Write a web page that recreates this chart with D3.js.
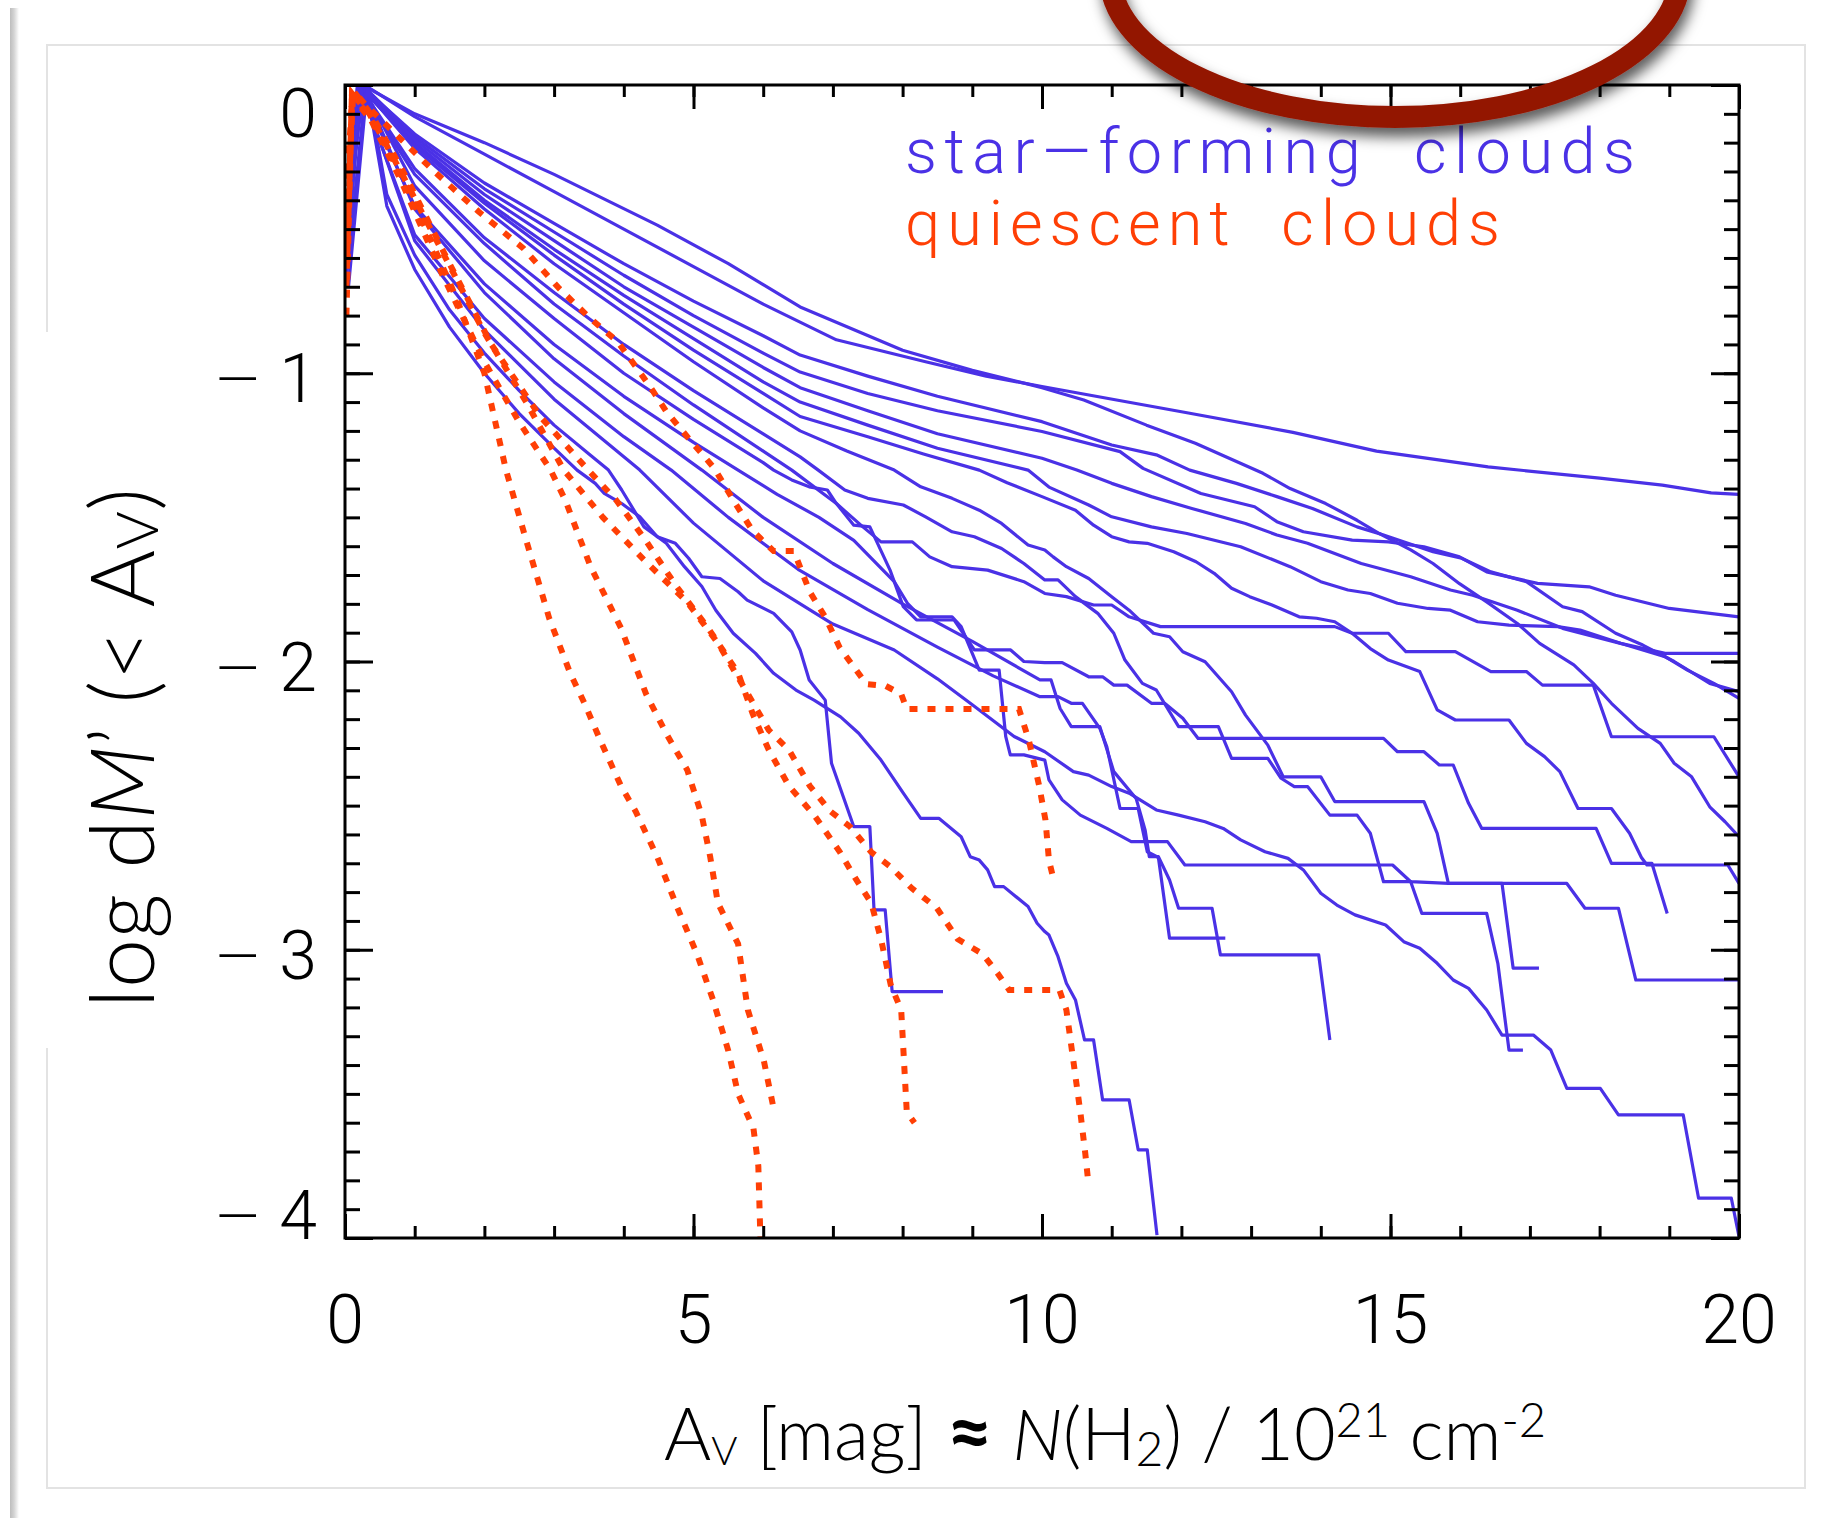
<!DOCTYPE html>
<html>
<head>
<meta charset="utf-8">
<script src="https://cdn.jsdelivr.net/npm/d3@7"></script>
<style>
  html, body { margin: 0; padding: 0; background: #fff; }
  svg { display: block; }
</style>
</head>
<body>
<svg id="chart" width="1826" height="1518"></svg>
<script>
// star-forming clouds: [Av, log dM']
const sf01 = [[0.04,-0.42],[0.28,0],[1,-0.11],[2,-0.24],[3,-0.37],[4,-0.5],[5,-0.63],[6,-0.76],[7.05,-0.884],[8.33,-0.96],[9.2,-1.01],[10,-1.046],[12.1,-1.138],[13.6,-1.205],[14.8,-1.27],[16.4,-1.325],[18,-1.364],[18.9,-1.388],[19.6,-1.415],[20,-1.42]];
const sf02 = [[0.05,-0.5],[0.25,0],[1,-0.18],[2,-0.36],[3,-0.51],[4,-0.66],[5,-0.8],[6,-0.93],[6.53,-0.996],[7.5,-1.07],[8.5,-1.13],[10,-1.202],[11.12,-1.272],[11.45,-1.33],[12.28,-1.417],[13.05,-1.463],[13.37,-1.515],[13.75,-1.55],[14.45,-1.579],[14.97,-1.585],[15.48,-1.602],[15.99,-1.637],[16.38,-1.689],[17.11,-1.729],[17.85,-1.741],[18.23,-1.77],[19,-1.816],[20,-1.845]];
const sf03 = [[0.05,-0.3],[0.18,0],[1,-0.2],[2,-0.4],[3,-0.57],[4,-0.73],[5,-0.88],[6,-1.03],[6.53,-1.1],[7.5,-1.18],[8.5,-1.26],[9.8,-1.336],[10.1,-1.395],[10.67,-1.457],[11,-1.498],[11.57,-1.533],[12.08,-1.556],[12.85,-1.602],[13.56,-1.671],[14,-1.723],[14.39,-1.752],[14.71,-1.764],[15.1,-1.798],[15.54,-1.816],[15.86,-1.822],[16.25,-1.862],[16.7,-1.874],[17.4,-1.879],[17.72,-1.891],[18.3,-1.937],[18.94,-1.972],[20,-1.972]];
const sf04 = [[0.06,-0.28],[0.22,0],[1,-0.17],[2,-0.34],[3,-0.48],[4,-0.62],[5,-0.75],[6,-0.87],[6.53,-0.937],[7.5,-1.01],[8.5,-1.08],[10,-1.168],[11,-1.249],[11.64,-1.283],[12.12,-1.336],[12.79,-1.382],[13.37,-1.428],[13.88,-1.469],[14.52,-1.533],[14.9,-1.561],[15.61,-1.619],[16.02,-1.642],[16.44,-1.689],[16.95,-1.723],[17.47,-1.81],[17.75,-1.827],[18.23,-1.902],[18.62,-1.943],[19.07,-2.0],[19.58,-2.076],[20,-2.105]];
const sf05 = [[0.04,-0.6],[0.2,0],[1,-0.19],[2,-0.38],[3,-0.54],[4,-0.7],[5,-0.84],[6,-0.98],[6.53,-1.05],[7.5,-1.13],[8.5,-1.21],[10,-1.295],[10.5,-1.336],[11,-1.382],[11.57,-1.428],[12.15,-1.469],[12.92,-1.521],[13.37,-1.561],[13.81,-1.59],[14.58,-1.66],[15.29,-1.706],[15.86,-1.752],[16.18,-1.77],[16.82,-1.822],[17.47,-1.885],[18.3,-1.937],[18.94,-1.983],[19.26,-2.03],[19.64,-2.076],[20,-2.128]];
const sf06 = [[0.03,-0.65],[0.18,0],[1,-0.31],[2,-0.55],[3,-0.76],[4,-0.94],[5,-1.11],[6,-1.27],[6.41,-1.336],[7.05,-1.452],[7.43,-1.533],[7.69,-1.585],[8.14,-1.585],[8.39,-1.637],[8.71,-1.671],[9.22,-1.683],[9.74,-1.723],[10.04,-1.764],[10.35,-1.775],[10.74,-1.804],[11,-1.804],[11.25,-1.845],[11.7,-1.879],[14.2,-1.879],[14.45,-1.902],[14.97,-1.902],[15.22,-1.966],[15.93,-1.966],[16.44,-2.035],[16.95,-2.035],[17.18,-2.082],[17.91,-2.082],[18.17,-2.261],[19.64,-2.261],[20,-2.4]];
const sf07 = [[0.05,-0.35],[0.25,0],[1,-0.1],[2,-0.2],[3,-0.31],[4.48,-0.486],[5.5,-0.62],[6.53,-0.77],[8,-0.92],[9,-0.99],[10,-1.05],[10.6,-1.093],[11.5,-1.18],[12.2,-1.243],[13.17,-1.347],[13.56,-1.4],[14.07,-1.452],[14.52,-1.51],[14.84,-1.556],[15.29,-1.613],[15.61,-1.66],[15.99,-1.73],[16.38,-1.793],[16.82,-1.868],[17.14,-1.937],[17.63,-2.012],[17.91,-2.076],[18.17,-2.145],[18.55,-2.232],[18.87,-2.284],[19.07,-2.353],[19.32,-2.4],[19.58,-2.504],[19.8,-2.556],[20,-2.608]];
const sf08 = [[0.04,-0.55],[0.2,0],[1,-0.21],[2,-0.41],[3,-0.59],[4,-0.76],[5,-0.92],[6,-1.07],[6.53,-1.15],[7.5,-1.22],[8.3,-1.28],[9.1,-1.336],[9.5,-1.38],[10,-1.428],[10.48,-1.475],[10.74,-1.527],[11,-1.567],[11.25,-1.585],[11.51,-1.59],[11.89,-1.619],[12.21,-1.654],[12.47,-1.694],[12.72,-1.746],[12.98,-1.775],[13.3,-1.804],[13.69,-1.845],[13.94,-1.85],[14.2,-1.862],[14.45,-1.902],[14.71,-1.955],[14.97,-1.995],[15.42,-2.035],[15.67,-2.168],[15.93,-2.203],[16.7,-2.203],[16.95,-2.284],[17.21,-2.33],[17.43,-2.382],[17.69,-2.51],[18.17,-2.51],[18.43,-2.596],[18.6,-2.68],[18.68,-2.706],[19.84,-2.706],[20,-2.77]];
const sf09 = [[0.05,-0.35],[0.24,0],[1,-0.35],[2,-0.61],[3,-0.81],[4,-1.0],[5,-1.16],[6,-1.31],[6.15,-1.336],[6.41,-1.37],[6.66,-1.394],[6.92,-1.405],[7.05,-1.452],[7.3,-1.527],[7.53,-1.533],[7.82,-1.683],[7.88,-1.723],[8.01,-1.81],[8.2,-1.856],[8.74,-1.856],[9.03,-1.96],[9.55,-1.96],[9.74,-2.0],[10.04,-2.004],[10.29,-2.004],[10.67,-2.053],[10.87,-2.053],[11.03,-2.082],[11.22,-2.082],[11.57,-2.145],[11.76,-2.145],[12.02,-2.197],[12.24,-2.267],[14.9,-2.267],[15.1,-2.313],[15.48,-2.313],[15.7,-2.359],[15.9,-2.359],[16.12,-2.492],[16.31,-2.579],[17.95,-2.579],[18.17,-2.7],[18.75,-2.7],[18.97,-2.874]];
const sf10 = [[0.04,-0.5],[0.2,0],[1,-0.42],[2,-0.69],[3,-0.9],[4,-1.08],[5,-1.24],[5.64,-1.336],[6.2,-1.42],[6.8,-1.5],[7.3,-1.58],[7.88,-1.723],[8.07,-1.798],[8.26,-1.845],[8.71,-1.845],[8.84,-1.879],[9.1,-2.03],[9.385,-2.03],[9.48,-2.261],[9.545,-2.324],[9.74,-2.324],[10.04,-2.342],[10.1,-2.411],[10.29,-2.48],[10.55,-2.533],[10.93,-2.579],[11.28,-2.625],[11.8,-2.625],[12.05,-2.706],[15.03,-2.706],[15.29,-2.764],[15.83,-2.77],[17.53,-2.77],[17.79,-2.856],[18.27,-2.856],[18.52,-3.105],[20,-3.105]];
const sf11 = [[0.05,-0.55],[0.22,0],[1,-0.54],[2,-0.85],[3,-1.09],[4,-1.29],[4.23,-1.336],[5,-1.52],[6,-1.72],[7,-1.87],[7.88,-1.96],[8.5,-2.06],[9,-2.15],[9.6,-2.26],[10.04,-2.313],[10.45,-2.382],[10.67,-2.394],[11,-2.434],[11.25,-2.457],[11.64,-2.515],[11.96,-2.533],[12.34,-2.556],[12.6,-2.579],[12.85,-2.619],[13.2,-2.66],[13.53,-2.683],[13.75,-2.723],[14,-2.804],[14.23,-2.845],[14.49,-2.879],[14.93,-2.914],[15.19,-2.972],[15.42,-2.995],[15.67,-3.047],[15.9,-3.105],[16.12,-3.134],[16.38,-3.209],[16.6,-3.296],[17.05,-3.296],[17.3,-3.348],[17.53,-3.481],[18.01,-3.481],[18.27,-3.573],[19.2,-3.573],[19.42,-3.862],[19.89,-3.862],[20,-3.995]];
const sf12 = [[0.05,-0.45],[0.2,0],[1,-0.29],[2,-0.53],[3,-0.72],[4,-0.9],[5,-1.06],[6,-1.21],[6.53,-1.29],[6.79,-1.336],[7.17,-1.405],[7.5,-1.434],[8.01,-1.457],[8.33,-1.498],[8.71,-1.55],[9.03,-1.567],[9.42,-1.608],[9.74,-1.66],[10.04,-1.717],[10.23,-1.717],[10.48,-1.775],[10.8,-1.833],[11.03,-1.902],[11.19,-1.995],[11.44,-2.076],[11.64,-2.099],[11.96,-2.226],[12.53,-2.226],[12.72,-2.336],[13.24,-2.336],[13.43,-2.405],[13.62,-2.434],[13.81,-2.434],[14.13,-2.533],[14.52,-2.533],[14.71,-2.596],[14.9,-2.764],[15.29,-2.764],[15.45,-2.874],[16.38,-2.874],[16.54,-3.047],[16.7,-3.348],[16.9,-3.348]];
const sf13 = [[0.05,-0.4],[0.22,0],[1,-0.22],[2,-0.43],[3,-0.62],[4,-0.79],[5,-0.96],[6,-1.12],[6.53,-1.2],[7.2,-1.27],[7.88,-1.336],[8.26,-1.394],[8.71,-1.434],[9.1,-1.475],[9.42,-1.521],[9.8,-1.596],[10.04,-1.613],[10.16,-1.637],[10.35,-1.671],[10.67,-1.712],[11,-1.775],[11.25,-1.822],[11.6,-1.902],[11.83,-1.914],[12.02,-1.966],[12.34,-2.001],[12.72,-2.105],[12.92,-2.186],[13.24,-2.29],[13.46,-2.4],[14,-2.4],[14.2,-2.486],[15.48,-2.486],[15.67,-2.596],[15.83,-2.77],[16.6,-2.77],[16.76,-3.064],[17.13,-3.064]];
const sf14 = [[0.04,-0.4],[0.25,0],[1,-0.43],[2,-0.72],[3,-0.95],[4,-1.14],[5.12,-1.336],[6,-1.5],[7,-1.66],[8,-1.8],[9,-1.93],[9.97,-2.064],[10.13,-2.064],[10.26,-2.163],[10.42,-2.226],[10.83,-2.226],[11.03,-2.382],[11.35,-2.475],[11.48,-2.585],[11.54,-2.677],[11.67,-2.677],[11.83,-2.758],[11.96,-2.856],[12.44,-2.856],[12.56,-3.018],[13.97,-3.018],[14.13,-3.313]];
const sf15 = [[0.06,-0.25],[0.2,0],[1,-0.52],[2,-0.81],[3,-1.03],[4,-1.22],[4.68,-1.336],[5.5,-1.5],[6.5,-1.68],[7.5,-1.82],[8.5,-1.95],[9.3,-2.05],[9.97,-2.122],[10.23,-2.122],[10.42,-2.145],[10.58,-2.145],[10.83,-2.232],[10.93,-2.296],[11.12,-2.51],[11.38,-2.51],[11.51,-2.66],[11.67,-2.68],[11.83,-2.96],[12.63,-2.96]];
const sf16 = [[0.05,-0.6],[0.3,0],[0.6,-0.42],[1,-0.64],[1.5,-0.84],[2,-1.0],[2.5,-1.14],[3,-1.26],[3.33,-1.336],[3.59,-1.382],[3.72,-1.417],[3.97,-1.452],[4.23,-1.498],[4.48,-1.567],[4.74,-1.59],[4.93,-1.642],[5.12,-1.706],[5.38,-1.712],[5.64,-1.758],[5.77,-1.787],[6.15,-1.833],[6.41,-1.897],[6.53,-1.96],[6.66,-2.064],[6.89,-2.134],[6.98,-2.353],[7.3,-2.573],[7.53,-2.573],[7.59,-2.862],[7.75,-2.862],[7.85,-3.145],[8.58,-3.145]];
const sf17 = [[0.05,-0.7],[0.32,0],[0.6,-0.38],[1,-0.59],[1.5,-0.78],[2,-0.93],[2.5,-1.06],[3,-1.18],[3.5,-1.28],[3.78,-1.336],[3.97,-1.405],[4.29,-1.533],[4.61,-1.59],[4.87,-1.671],[5.12,-1.74],[5.32,-1.822],[5.57,-1.902],[5.89,-1.972],[6.15,-2.041],[6.47,-2.099],[6.73,-2.134],[7.11,-2.192],[7.37,-2.249],[7.69,-2.342],[8.01,-2.457],[8.26,-2.544],[8.52,-2.544],[8.84,-2.608],[8.97,-2.677],[9.1,-2.689],[9.22,-2.723],[9.32,-2.781],[9.45,-2.781],[9.8,-2.85],[9.93,-2.908],[10.04,-2.937],[10.1,-2.949],[10.23,-3.024],[10.35,-3.116],[10.48,-3.174],[10.61,-3.313],[10.74,-3.313],[10.87,-3.521],[11.25,-3.521],[11.38,-3.694],[11.51,-3.694],[11.65,-3.99]];

// quiescent clouds
const qc01 = [[0.02,-0.8],[0.1,-0.04],[0.4,-0.13],[0.8,-0.31],[1.2,-0.52],[1.6,-0.74],[2.0,-1.0],[2.31,-1.336],[2.6,-1.58],[2.93,-1.85],[3.23,-2.04],[3.44,-2.147],[3.66,-2.272],[3.96,-2.432],[4.17,-2.52],[4.48,-2.678],[4.77,-2.855],[5.05,-3.015],[5.28,-3.174],[5.5,-3.351],[5.64,-3.5],[5.86,-3.62],[5.93,-3.75],[5.96,-4.0]];
const qc02 = [[0.03,-0.6],[0.1,-0.03],[0.35,-0.11],[0.8,-0.33],[1.4,-0.66],[2.0,-0.96],[2.5,-1.17],[2.95,-1.336],[3.16,-1.44],[3.52,-1.669],[3.96,-1.884],[4.32,-2.113],[4.62,-2.255],[4.91,-2.376],[5.12,-2.536],[5.24,-2.678],[5.35,-2.838],[5.64,-2.98],[5.78,-3.209],[6.01,-3.386],[6.16,-3.563]];
const qc03 = [[0.03,-0.45],[0.12,-0.02],[0.4,-0.11],[0.9,-0.33],[1.5,-0.62],[2.1,-0.9],[2.8,-1.15],[3.49,-1.336],[3.89,-1.44],[4.32,-1.582],[4.76,-1.741],[5.21,-1.884],[5.64,-2.04],[5.85,-2.182],[6.08,-2.307],[6.37,-2.432],[6.74,-2.536],[7.1,-2.661],[7.32,-2.751],[7.55,-2.838],[7.69,-2.963],[7.83,-3.122],[7.98,-3.209],[8.02,-3.386],[8.06,-3.563],[8.17,-3.6]];
const qc04 = [[0.02,-0.7],[0.1,-0.03],[0.35,-0.1],[0.8,-0.3],[1.4,-0.58],[2,-0.86],[2.6,-1.1],[3.14,-1.336],[3.7,-1.5],[4.3,-1.65],[4.91,-1.794],[5.35,-1.936],[5.78,-2.113],[6.08,-2.238],[6.37,-2.307],[6.67,-2.432],[6.96,-2.519],[7.25,-2.574],[7.55,-2.661],[7.83,-2.713],[8.13,-2.786],[8.49,-2.855],[8.79,-2.963],[9.15,-3.015],[9.37,-3.084],[9.53,-3.14],[10.25,-3.14],[10.35,-3.209],[10.45,-3.386],[10.55,-3.563],[10.62,-3.705],[10.67,-3.82]];
const qc05 = [[0.03,-0.3],[0.12,-0.02],[0.3,-0.07],[0.64,-0.15],[1.28,-0.3],[1.92,-0.44],[2.56,-0.567],[3.07,-0.705],[3.52,-0.81],[3.91,-0.89],[4.36,-1.04],[4.61,-1.133],[4.93,-1.226],[5.3,-1.33],[5.57,-1.44],[5.85,-1.547],[6.15,-1.617],[6.44,-1.617],[6.67,-1.759],[6.89,-1.846],[7.1,-1.953],[7.48,-2.078],[7.76,-2.085],[7.98,-2.113],[8.06,-2.165],[9.67,-2.165],[9.81,-2.272],[9.96,-2.432],[10.05,-2.55],[10.1,-2.69],[10.17,-2.76]];

const starForming = [sf01, sf02, sf03, sf04, sf05, sf06, sf07, sf08, sf09, sf10, sf11, sf12, sf13, sf14, sf15, sf16, sf17];
const quiescent = [qc01, qc02, qc03, qc04, qc05];

const xTicksMajor = [0, 5, 10, 15, 20];
const yTicksMajor = [0, -1, -2, -3, -4];
const legendLabels = ['star\u2014forming  clouds', 'quiescent  clouds'];

const W = 1826;
const H = 1518;
const frame = { left: 345, right: 1739, top: 85, bottom: 1238 };
const blue = '#4a31e6';
const red = '#ff3f05';
const ringColor = '#931500';
const tickFont = 'Roboto, "DejaVu Sans", sans-serif';
const titleFont = 'Lato, "Open Sans", sans-serif';

const x = d3.scaleLinear().domain([0, 20]).range([frame.left, frame.right]);
const y = d3.scaleLinear().domain([-4, 0]).range([frame.bottom, frame.top]);

const svg = d3.select('#chart');
const defs = svg.append('defs');

defs.append('clipPath').attr('id', 'plot-clip')
  .append('rect')
  .attr('x', frame.left).attr('y', frame.top)
  .attr('width', frame.right - frame.left).attr('height', frame.bottom - frame.top);

const shadow = defs.append('filter').attr('id', 'ring-shadow')
  .attr('x', '-20%').attr('y', '-20%').attr('width', '140%').attr('height', '160%');
shadow.append('feDropShadow')
  .attr('dx', 3).attr('dy', 9).attr('stdDeviation', 7)
  .attr('flood-color', '#000').attr('flood-opacity', 0.65);

const edge = defs.append('linearGradient').attr('id', 'edge-grad');
edge.append('stop').attr('offset', '0%').attr('stop-color', '#bdbdbd');
edge.append('stop').attr('offset', '45%').attr('stop-color', '#d4d4d4');
edge.append('stop').attr('offset', '100%').attr('stop-color', '#ffffff');

svg.append('rect').attr('width', W).attr('height', H).attr('fill', '#fff');

// slide decoration: outer edge and the faint inner box
svg.append('rect').attr('x', 10).attr('y', 8).attr('width', 9).attr('height', H - 8)
  .attr('fill', 'url(#edge-grad)');

svg.append('path')
  .attr('d', 'M47,332 V45 H1805 V1488 H47 V1048')
  .attr('fill', 'none').attr('stroke', '#e3e3e3').attr('stroke-width', 2);

// curves
const line = d3.line().x(d => x(d[0])).y(d => y(d[1]));
const plot = svg.append('g').attr('clip-path', 'url(#plot-clip)');

plot.append('g').selectAll('path')
  .data(starForming)
  .join('path')
  .attr('d', line)
  .attr('fill', 'none')
  .attr('stroke', blue)
  .attr('stroke-width', 3.2)
  .attr('stroke-linejoin', 'round');

plot.append('g').selectAll('path')
  .data(quiescent)
  .join('path')
  .attr('d', line)
  .attr('fill', 'none')
  .attr('stroke', red)
  .attr('stroke-width', 6)
  .attr('stroke-dasharray', '8 10');

// frame and ticks (inward on all four sides)
svg.append('rect')
  .attr('x', frame.left).attr('y', frame.top)
  .attr('width', frame.right - frame.left).attr('height', frame.bottom - frame.top)
  .attr('fill', 'none').attr('stroke', '#000').attr('stroke-width', 3);

const xMinor = d3.range(0, 21, 1);
const yMinor = d3.range(0, 41).map(i => -4 + i * 0.1);

function draw_ticks(axis, values, size, transform) {
  svg.append('g')
    .attr('transform', transform)
    .call(axis.tickValues(values).tickSize(size).tickSizeOuter(0).tickFormat(''))
    .call(g => g.select('.domain').remove())
    .call(g => g.selectAll('line').attr('stroke', '#000').attr('stroke-width', 3));
}

draw_ticks(d3.axisBottom(x), xMinor, -12, `translate(0,${frame.bottom})`);
draw_ticks(d3.axisBottom(x), xTicksMajor, -24, `translate(0,${frame.bottom})`);
draw_ticks(d3.axisTop(x), xMinor, -12, `translate(0,${frame.top})`);
draw_ticks(d3.axisTop(x), xTicksMajor, -24, `translate(0,${frame.top})`);
draw_ticks(d3.axisLeft(y), yMinor, -15, `translate(${frame.left},0)`);
draw_ticks(d3.axisLeft(y), yTicksMajor, -28, `translate(${frame.left},0)`);
draw_ticks(d3.axisRight(y), yMinor, -15, `translate(${frame.right},0)`);
draw_ticks(d3.axisRight(y), yTicksMajor, -28, `translate(${frame.right},0)`);

// tick labels
svg.append('g').selectAll('text')
  .data(xTicksMajor)
  .join('text')
  .attr('x', d => x(d))
  .attr('y', 1343)
  .attr('text-anchor', 'middle')
  .attr('font-family', tickFont)
  .attr('font-weight', 300)
  .attr('font-size', 68)
  .text(d => d);

const yLabels = svg.append('g').selectAll('text')
  .data(yTicksMajor)
  .join('text')
  .attr('x', 317)
  .attr('y', d => y(d) + (d === 0 ? 52 : d === -4 ? 1 : 29))
  .attr('text-anchor', 'end')
  .attr('font-family', tickFont)
  .attr('font-weight', 300)
  .attr('font-size', 68);

// long, thin minus sign as in the original labels
yLabels.filter(d => d < 0).append('tspan')
  .attr('font-size', 56).attr('dy', -3)
  .text('\u2014');
yLabels.append('tspan')
  .attr('dx', d => (d < 0 ? 20 : 0))
  .attr('dy', d => (d < 0 ? 3 : 0))
  .text(d => Math.abs(d));

// legend
svg.append('g').selectAll('text')
  .data(legendLabels)
  .join('text')
  .attr('x', 905)
  .attr('y', (d, i) => 173 + i * 72)
  .attr('fill', (d, i) => (i === 0 ? blue : red))
  .attr('font-family', tickFont)
  .attr('font-weight', 300)
  .attr('font-size', 63)
  .attr('textLength', (d, i) => (i === 0 ? 730 : 595))
  .attr('lengthAdjust', 'spacing')
  .style('white-space', 'pre')
  .text(d => d);

// axis titles
const xTitle = svg.append('text')
  .attr('x', 664).attr('y', 1460)
  .attr('font-family', titleFont).attr('font-weight', 300).attr('font-size', 72)
  .attr('textLength', 882).attr('lengthAdjust', 'spacing')
  .style('white-space', 'pre');
xTitle.append('tspan').text('A');
xTitle.append('tspan').attr('font-size', 40).attr('dy', 5).text('V');
xTitle.append('tspan').attr('dy', -5).text(' [mag] ');
xTitle.append('tspan').attr('font-weight', 700).attr('font-size', 80).text('\u2248');
xTitle.append('tspan').text(' ');
xTitle.append('tspan').attr('font-style', 'italic').text('N');
xTitle.append('tspan').text('(H');
xTitle.append('tspan').attr('font-size', 48).attr('dy', 6).text('2');
xTitle.append('tspan').attr('dy', -6).text(') / 10');
xTitle.append('tspan').attr('font-size', 47).attr('dy', -23).text('21');
xTitle.append('tspan').attr('dy', 23).text(' cm');
xTitle.append('tspan').attr('font-size', 47).attr('dy', -23).text('-2');

const yTitle = svg.append('text')
  .attr('transform', 'translate(154,1008) rotate(-90)')
  .attr('font-family', titleFont).attr('font-weight', 300).attr('font-size', 88)
  .attr('textLength', 520).attr('lengthAdjust', 'spacing')
  .style('white-space', 'pre');
yTitle.append('tspan').text('log d');
yTitle.append('tspan').attr('font-style', 'italic').text('M');
yTitle.append('tspan').text('\u2019 (< A');
yTitle.append('tspan').attr('font-size', 58).attr('dy', 4).text('V');
yTitle.append('tspan').attr('dy', -4).text(')');

// highlight ring drawn over the chart
svg.append('ellipse')
  .attr('cx', 1395).attr('cy', -25)
  .attr('rx', 285).attr('ry', 142)
  .attr('fill', 'none')
  .attr('stroke', ringColor)
  .attr('stroke-width', 22)
  .attr('filter', 'url(#ring-shadow)');
</script>
</body>
</html>
